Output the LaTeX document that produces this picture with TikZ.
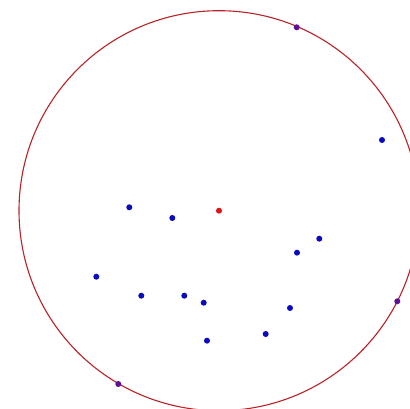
\documentclass[tikz,border=0pt]{standalone}
\usepackage{tikz}
\definecolor{ringred}{RGB}{185,35,40}
\definecolor{ptblue}{RGB}{10,10,190}
\definecolor{ptpurple}{RGB}{95,15,150}
\definecolor{ctrred}{RGB}{225,20,20}
\tikzset{
  pt/.style={circle, fill=ptblue, inner sep=0pt, minimum size=6pt},
  edgept/.style={pt, fill=ptpurple},
  ctr/.style={pt, fill=ctrred}
}
\begin{document}
\begin{tikzpicture}[x=1pt, y=-1pt]
  \useasboundingbox[fill=white] (0,0) rectangle (410,409);
  \clip (0,0) rectangle (410,409);
  % Enclosing circle
  \draw[ringred, line width=1.1pt] (219,210.7) circle (200);
  % Inner points
  \foreach \name/\x/\y in {p1/382/140, p2/129.3/207.3, p3/172.3/218,
      p4/319.3/238.7, p5/297/252.7, p6/96.3/276.7, p7/141.3/295.7,
      p8/184.3/295.7, p9/203.7/302.7, p10/290/308, p11/265.7/334,
      p12/207/340.7} {
    \node[pt] (\name) at (\x,\y) {};
  }
  % Points on the circle
  \foreach \name/\x/\y in {b1/296.7/27.3, b2/397.3/301.3, b3/118.3/384} {
    \node[edgept] (\name) at (\x,\y) {};
  }
  % Centre
  \node[ctr] (c) at (219,210.7) {};
\end{tikzpicture}
\end{document}
